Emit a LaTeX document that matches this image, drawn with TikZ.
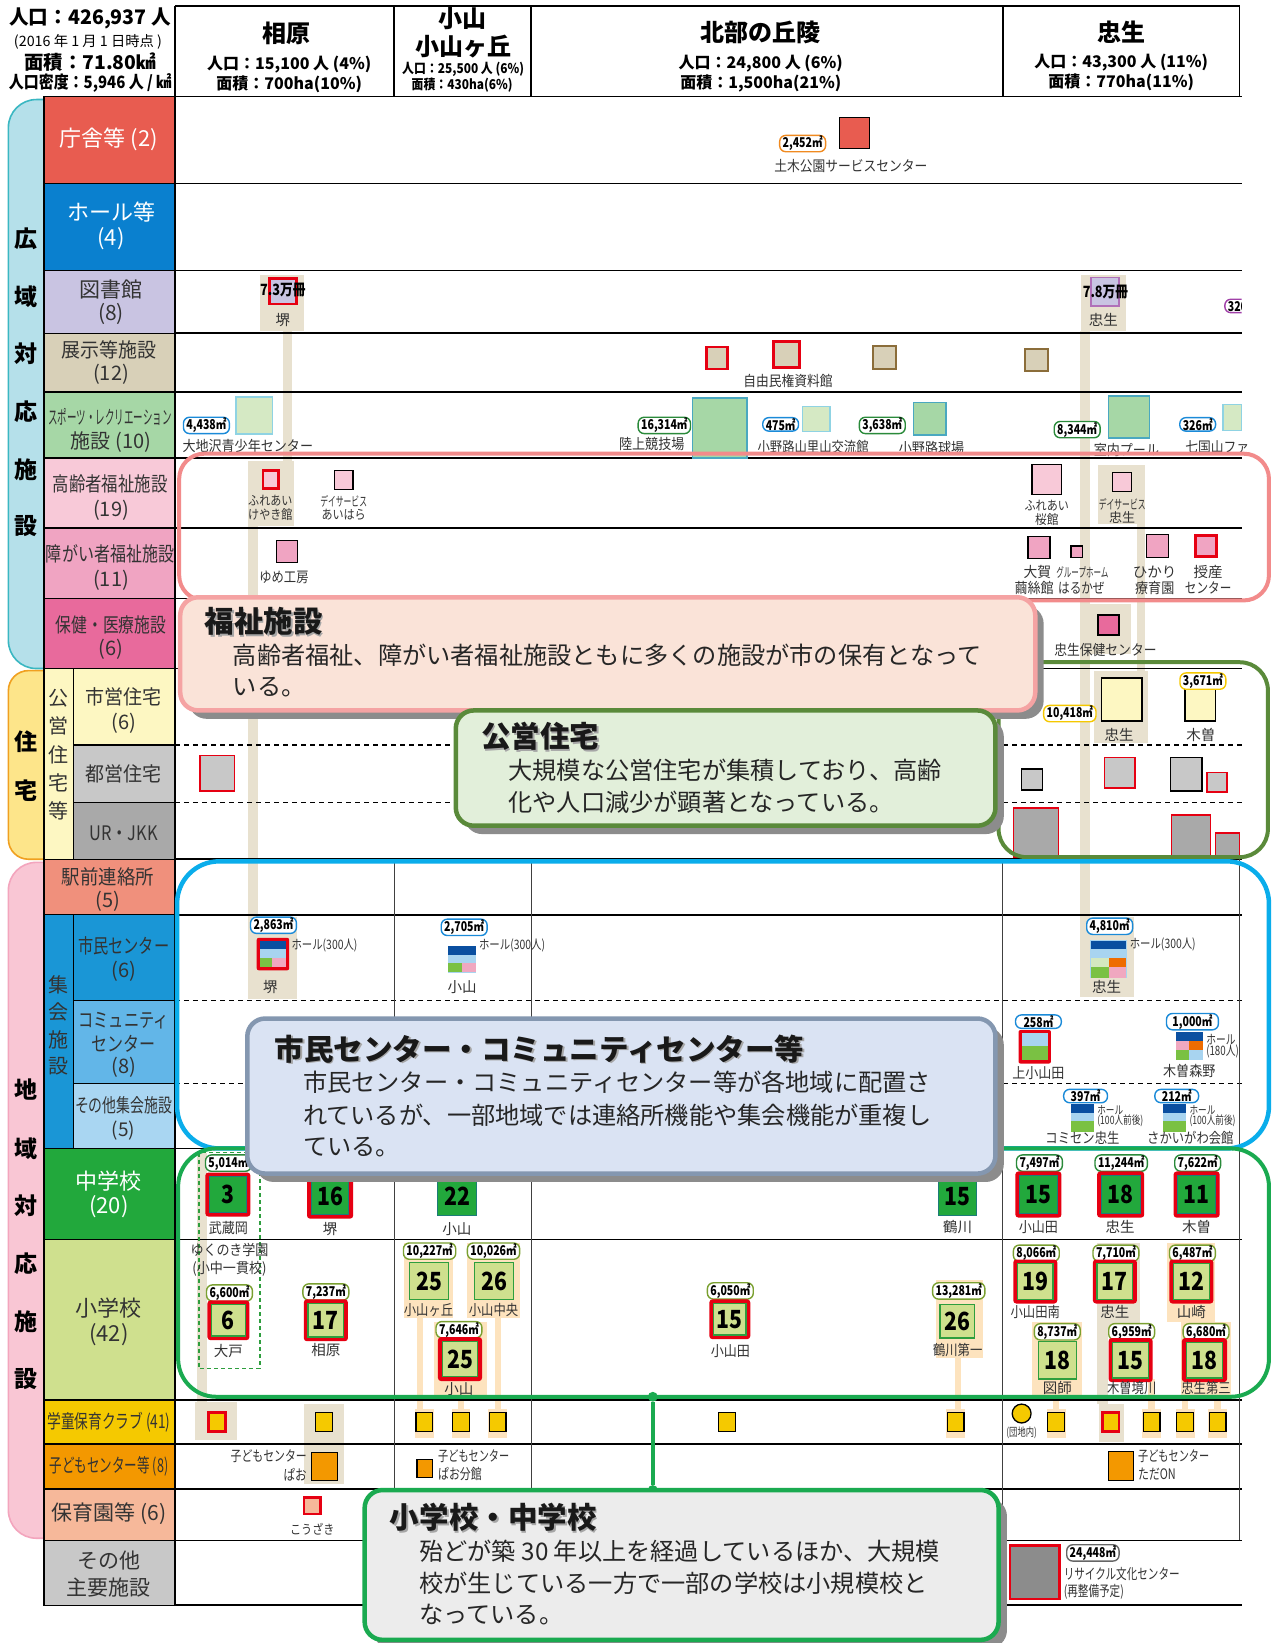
\documentclass[tikz,border=0pt]{standalone}
\usepackage{fontspec}
\setmainfont{Noto Sans CJK JP}
\definecolor{cTxt}{HTML}{333333}
\definecolor{cRed}{HTML}{E60012}
\definecolor{cChosha}{HTML}{E85C50}
\definecolor{cHall}{HTML}{0A80CF}
\definecolor{cLib}{HTML}{C9C4E2}
\definecolor{cLibB}{HTML}{B070B8}
\definecolor{cExh}{HTML}{D8D0B8}
\definecolor{cExhB}{HTML}{8B6D3A}
\definecolor{cSport}{HTML}{A6D7A6}
\definecolor{cSportL}{HTML}{D5E9C4}
\definecolor{cSportB}{HTML}{4AA8C0}
\definecolor{cSportLB}{HTML}{8FD3E3}
\definecolor{cElder}{HTML}{F8C9D8}
\definecolor{cDisab}{HTML}{F0A4C2}
\definecolor{cHealth}{HTML}{E86A9C}
\definecolor{cShiei}{HTML}{FDF7C2}
\definecolor{cToei}{HTML}{C8C8C8}
\definecolor{cUR}{HTML}{A9A9A9}
\definecolor{cEki}{HTML}{F0907C}
\definecolor{cShimin}{HTML}{1A96D6}
\definecolor{cComm}{HTML}{62B6E8}
\definecolor{cOther}{HTML}{A9D6F2}
\definecolor{cJHS}{HTML}{22A83C}
\definecolor{cJHSB}{HTML}{1C7C78}
\definecolor{cES}{HTML}{CFE08E}
\definecolor{cESB}{HTML}{2E9E3E}
\definecolor{cGaku}{HTML}{F5C900}
\definecolor{cKodomo}{HTML}{F39800}
\definecolor{cHoiku}{HTML}{F6B89A}
\definecolor{cSonota}{HTML}{C8C8C8}
\definecolor{cSonotaSq}{HTML}{8C8C8C}
\definecolor{cBandB}{HTML}{B5E0EA}
\definecolor{cBandBd}{HTML}{3AB7C2}
\definecolor{cBandY}{HTML}{FDE58A}
\definecolor{cBandYd}{HTML}{F0A020}
\definecolor{cBandP}{HTML}{F9C6D4}
\definecolor{cBandPd}{HTML}{F3A5BD}
\definecolor{cBeige}{HTML}{E8E1CF}
\definecolor{cOB}{HTML}{FDE3BE}
\definecolor{cDBlue}{HTML}{0A4FA0}
\definecolor{cLBlue}{HTML}{A8D4F0}
\definecolor{cIGreen}{HTML}{7AC143}
\definecolor{cIPink}{HTML}{F0A8C0}
\definecolor{cIOrange}{HTML}{EE6C00}
\definecolor{cILGreen}{HTML}{D4E8C0}
\definecolor{cFrP}{HTML}{F28B8B}
\definecolor{cCoP}{HTML}{FAE3D8}
\definecolor{cCoPB}{HTML}{F5A3A3}
\definecolor{cFrO}{HTML}{5A8A3A}
\definecolor{cCoG}{HTML}{E2EFDA}
\definecolor{cFrB}{HTML}{0AADEB}
\definecolor{cCoB}{HTML}{DAE3F3}
\definecolor{cCoBB}{HTML}{8497B0}
\definecolor{cFrG}{HTML}{1AAA50}
\definecolor{cCoGr}{HTML}{ECECEC}
\definecolor{cShadow}{HTML}{8C8C8C}
\definecolor{cAreaG}{HTML}{2A8A3A}
\definecolor{cAreaO}{HTML}{7AA030}
\definecolor{cAreaB}{HTML}{1A8AD8}
\definecolor{cAreaY}{HTML}{F5C800}
\definecolor{cAreaOr}{HTML}{F08A20}
\definecolor{cAreaPu}{HTML}{A040A8}
\newcounter{nd}
\newcommand\Tx[3][]{\stepcounter{nd}\node[lbl,#1] (n\arabic{nd}) at (#2) {#3};}
\newcommand\cnd[2][0.85]{\scalebox{#1}[1]{#2}}
\newcommand\Ar[3][]{\stepcounter{nd}\node[area,#1] (a\arabic{nd}) at (#2) {\cnd[0.78]{#3}};}
\newcommand\JB[5]{\draw[fill=cJHS,draw=cJHSB,line width=1pt] (#1,#2) rectangle (#3,#4);
  \stepcounter{nd}\node[num] (b\arabic{nd}) at ({(#1+#3)/2},{(#2+#4)/2}) {\cnd[0.85]{#5}};}
\newcommand\JR[5]{\fill[cRed,rounded corners=3pt] (#1-4,#2-4) rectangle (#3+4,#4+4);\JB{#1}{#2}{#3}{#4}{#5}}
\newcommand\EB[5]{\draw[fill=cES,draw=cESB,line width=1.2pt] (#1,#2) rectangle (#3,#4);
  \stepcounter{nd}\node[num] (b\arabic{nd}) at ({(#1+#3)/2},{(#2+#4)/2}) {\cnd[0.85]{#5}};}
\newcommand\ER[5]{\fill[cRed,rounded corners=3pt] (#1-4,#2-4) rectangle (#3+4,#4+4);\EB{#1}{#2}{#3}{#4}{#5}}
\newcommand\GK[1]{\draw[fs,fill=cGaku] (#1-8,1348) rectangle (#1+8,1366);}
\newcommand\GKR[1]{\draw[line width=2.6pt,draw=cRed,fill=cGaku] (#1-8,1348) rectangle (#1+8,1366);}
\newcommand\TT[2]{\stepcounter{nd}\node[ttl,anchor=west,text=black!35] (s\arabic{nd}) at ($(#1)+(1.6,1.6)$) {#2};\Tx[ttl,anchor=west]{#1}{#2}}
\usetikzlibrary{calc}
\begin{document}
\begin{tikzpicture}[x=1.0474pt,y=-1.0474pt,
  lbl/.style={inner sep=0pt,text=cTxt,font=\fontsize{14.5}{15}\selectfont},
  slbl/.style={lbl,font=\fontsize{13}{13}\selectfont},
  tlbl/.style={lbl,font=\fontsize{11.5}{11.5}\selectfont},
  ct/.style={lbl,font=\fontsize{20}{20}\selectfont},
  ctw/.style={ct,text=white},
  bd/.style={lbl,text=black,font=\bfseries\fontsize{23}{23}\selectfont},
  hd/.style={lbl,text=black,font=\bfseries\fontsize{24}{24}\selectfont},
  hs/.style={lbl,text=black,font=\bfseries\fontsize{16}{16}\selectfont},
  area/.style={draw,fill=white,rounded corners=6pt,line width=1.4pt,inner xsep=3pt,inner ysep=0.7pt,text=black,font=\bfseries\fontsize{13.5}{13.5}\selectfont},
  num/.style={inner sep=0pt,text=black,font=\bfseries\fontsize{25}{25}\selectfont},
  fs/.style={draw=black,line width=1.3pt},
  rs/.style={draw=cRed,line width=2.6pt},
  rt/.style={draw=cRed,line width=1.5pt},
  gl/.style={line width=1.6pt,black},
  dl/.style={line width=1.3pt,black,dash pattern=on 5pt off 4pt},
  vl/.style={line width=0.8pt,black!75},
  cat/.style={draw=black,line width=1.3pt},
  ttl/.style={lbl,text=black!90,font=\bfseries\fontsize{29.5}{29.5}\selectfont},
  bdy/.style={lbl,text=black!85,font=\fontsize{24.2}{24.5}\selectfont}]
\useasboundingbox (0,0) rectangle (1223,1568);
\fill[white] (0,0) rectangle (1223,1568);

% ---------- side bands
\draw[fill=cBandB,draw=cBandBd,line width=1.6pt,rounded corners=28pt] (8,95) rectangle (80,638);
\draw[fill=cBandY,draw=cBandYd,line width=1.6pt,rounded corners=20pt] (8,640) rectangle (80,820);
\draw[fill=cBandP,draw=cBandPd,line width=1.6pt,rounded corners=28pt] (8,823) rectangle (80,1468);

% ---------- beige strips (co-located facilities)
\fill[cBeige] (248,262) rectangle (290,316);
\fill[cBeige] (270,316) rectangle (279,440);
\fill[cBeige] (237,440) rectangle (281,502);
\fill[cBeige] (237,502) rectangle (246,875);
\fill[cBeige] (237,875) rectangle (283,953);
\fill[cBeige] (188,1100) rectangle (198,1338);
\fill[cBeige] (186,1338) rectangle (226,1374);
\fill[cBeige] (290,1340) rectangle (328,1416);
\fill[cBeige] (1032,262) rectangle (1075,316);
\fill[cBeige] (1031,316) rectangle (1040,875);
\fill[cBeige] (1031,875) rectangle (1082,951);
\fill[cBeige] (1048,444) rectangle (1093,500);
\fill[cBeige] (1085,500) rectangle (1093,640);
\fill[cBeige] (1033,576) rectangle (1079,624);
\fill[cBeige] (1044,640) rectangle (1096,709);
\fill[cBeige] (1047,1186) rectangle (1088,1268);
\fill[cBeige] (1047,1268) rectangle (1057,1340);
\fill[cBeige] (1049,1340) rectangle (1073,1376);
% light orange strips (schools)
\fill[cOB] (386,1186) rectangle (432,1258);
\fill[cOB] (398,1258) rectangle (404,1347);
\fill[cOB] (396,1345) rectangle (414,1372);
\fill[cOB] (446,1186) rectangle (496,1258);
\fill[cOB] (472,1258) rectangle (478,1347);
\fill[cOB] (466,1345) rectangle (484,1372);
\fill[cOB] (414,1262) rectangle (465,1333);
\fill[cOB] (437,1333) rectangle (443,1347);
\fill[cOB] (431,1345) rectangle (449,1372);
\fill[cOB] (893,1222) rectangle (938,1296);
\fill[cOB] (911,1296) rectangle (917,1347);
\fill[cOB] (903,1345) rectangle (921,1372);
\fill[cOB] (985,1262) rectangle (1033,1333);
\fill[cOB] (1005,1333) rectangle (1011,1347);
\fill[cOB] (999,1345) rectangle (1017,1372);
\fill[cOB] (1114,1186) rectangle (1160,1262);
\fill[cOB] (1127,1262) rectangle (1175,1333);
\fill[cOB] (1128,1262) rectangle (1134,1347);
\fill[cOB] (1122,1345) rectangle (1140,1372);
\fill[cOB] (1159,1333) rectangle (1165,1347);
\fill[cOB] (1153,1345) rectangle (1171,1372);
\fill[cOB] (1096,1316) rectangle (1102,1347);
\fill[cOB] (1090,1345) rectangle (1108,1372);

% ---------- header
\draw[gl] (167,6) -- (1183,6);
\foreach \x in {167,376,507,957,1183} \draw[gl] (\x,6) -- (\x,92);
\Tx[lbl,text=black,font=\bfseries\fontsize{20}{20}\selectfont]{86,18}{\cnd[0.98]{人口：426,937 人}}
\Tx[lbl,text=black,font=\fontsize{14.3}{14.3}\selectfont]{84,40}{(2016 年 1 月 1 日時点 )}
\Tx[lbl,text=black,font=\bfseries\fontsize{19}{19}\selectfont]{86,59}{\cnd[1.02]{面積：71.80㎢}}
\Tx[lbl,text=black,font=\bfseries\fontsize{17}{17}\selectfont]{86,79}{\cnd[0.88]{人口密度：5,946 人 / ㎢}}
\Tx[hd]{273,32}{相原}
\Tx[hs]{276,62}{人口：15,100 人 (4\%)}
\Tx[hs]{276,80}{面積：700ha(10\%)}
\Tx[hd]{441,18}{小山}
\Tx[hd]{442,44}{小山ヶ丘}
\Tx[hs,font=\bfseries\fontsize{13.5}{13.5}\selectfont]{442,66}{\cnd[0.88]{人口：25,500 人 (6\%)}}
\Tx[hs,font=\bfseries\fontsize{13.5}{13.5}\selectfont]{441,81}{\cnd[0.88]{面積：430ha(6\%)}}
\Tx[hd]{726,31}{北部の丘陵}
\Tx[hs]{726,61}{人口：24,800 人 (6\%)}
\Tx[hs]{726,80}{面積：1,500ha(21\%)}
\Tx[hd]{1070,31}{忠生}
\Tx[hs]{1070,60}{人口：43,300 人 (11\%)}
\Tx[hs]{1070,79}{面積：770ha(11\%)}

% ---------- grid
\foreach \y in {92,175,258,318,374,437,504,571,638,820,873,1096,1183,1336,1378,1421,1470,1532} \draw[gl] (167,\y) -- (1185,\y);
\foreach \y in {711,766,955,1034} \draw[dl] (167,\y) -- (1185,\y);
\foreach \x in {376,507,957,1183} \draw[vl] (\x,820) -- (\x,1470);

% ---------- 庁舎等
\draw[fs,fill=cChosha] (801,112) rectangle (830,142);
\Ar[draw=cAreaOr]{766,137}{2,452㎡}
\Tx{812,158}{\cnd[0.88]{土木公園サービスセンター}}

% ---------- 図書館
\draw[rs,fill=cLib] (257,266) rectangle (283,290);
\Tx[lbl,text=black,font=\bfseries\fontsize{15.5}{15.5}\selectfont]{270,277}{\cnd[0.82]{7.3万冊}}
\Tx{270,305}{堺}
\draw[line width=1.5pt,draw=cLibB,fill=cLib] (1041,265) rectangle (1068,292);
\Tx[lbl,text=black,font=\bfseries\fontsize{15.5}{15.5}\selectfont]{1055,279}{\cnd[0.82]{7.8万冊}}
\Tx{1053,305}{忠生}
\begin{scope}
\clip (1150,280) rectangle (1185,305);
\Ar[draw=cAreaPu]{1186,292}{320㎡}
\end{scope}

% ---------- 展示等施設
\draw[rs,fill=cExh] (674,331) rectangle (694,352);
\draw[rs,fill=cExh] (738,326) rectangle (763,351);
\Tx{752,364}{\cnd[0.88]{自由民権資料館}}
\draw[line width=1.5pt,draw=cExhB,fill=cExh] (833,330) rectangle (855,352);
\draw[line width=1.5pt,draw=cExhB,fill=cExh] (978,333) rectangle (1000,354);

% ---------- スポーツ
\draw[line width=1.5pt,draw=cSportLB,fill=cSportL] (225,379) rectangle (260,414);
\Ar[draw=cAreaB]{197,406}{4,438㎡}
\Tx[anchor=west]{174,426}{\cnd[0.9]{大地沢青少年センター}}
\draw[line width=1.5pt,draw=cSportB,fill=cSport] (661,380) rectangle (713,437);
\Ar[draw=cAreaG]{634,406}{16,314㎡}
\Tx{622,424}{\cnd[0.9]{陸上競技場}}
\draw[line width=1.5pt,draw=cSportLB,fill=cSportL] (766,388) rectangle (792,412);
\Ar[draw=cAreaB]{745,405}{475㎡}
\Tx{776,427}{\cnd[0.85]{小野路山里山交流館}}
\draw[line width=1.5pt,draw=cSportB,fill=cSport] (872,384) rectangle (903,415);
\Ar[draw=cAreaG]{842,406}{3,638㎡}
\Tx{889,428}{\cnd[0.9]{小野路球場}}
\draw[line width=1.5pt,draw=cSportB,fill=cSport] (1058,378) rectangle (1097,418);
\Ar[draw=cAreaG]{1028,410}{8,344㎡}
\Tx{1075,429}{\cnd[0.9]{室内プール}}
\draw[line width=1.5pt,draw=cSportLB,fill=cSportL] (1167,386) rectangle (1185,411);
\Ar[draw=cAreaB]{1143,405}{326㎡}
\Tx[anchor=west]{1131,427}{\cnd[0.88]{七国山ファ}}

% ---------- 高齢者福祉
\draw[rs,fill=cElder] (251,449) rectangle (266,466);
\Tx[slbl]{258,478}{\cnd[0.85]{ふれあい}}
\Tx[slbl]{258,491}{\cnd[0.85]{けやき館}}
\draw[fs,fill=cElder] (319,449) rectangle (337,467);
\Tx[slbl]{328,478}{\cnd[0.6]{デイサービス}}
\Tx[slbl]{328,491}{\cnd[0.85]{あいはら}}
\draw[fs,fill=cElder] (985,443) rectangle (1013,472);
\Tx[slbl]{999,483}{\cnd[0.85]{ふれあい}}
\Tx[slbl]{999,496}{\cnd[0.9]{桜館}}
\draw[fs,fill=cElder] (1062,451) rectangle (1080,469);
\Tx[slbl]{1071,481}{\cnd[0.6]{デイサービス}}
\Tx[slbl]{1071,494}{忠生}

% ---------- 障がい者福祉
\draw[fs,fill=cDisab] (264,516) rectangle (284,537);
\Tx{271,551}{\cnd[0.85]{ゆめ工房}}
\draw[fs,fill=cDisab] (981,512) rectangle (1002,533);
\Tx{990,546}{\cnd[0.95]{大賀}}
\Tx{987,561}{\cnd[0.9]{繭絲館}}
\draw[fs,fill=cDisab] (1022,521) rectangle (1033,532);
\Tx[slbl]{1033,546}{\cnd[0.58]{グループホーム}}
\Tx{1032,561}{\cnd[0.8]{はるかぜ}}
\draw[fs,fill=cDisab] (1094,510) rectangle (1115,532);
\Tx{1102,546}{ひかり}
\Tx{1102,561}{\cnd[0.9]{療育園}}
\draw[rs,fill=cDisab] (1141,511) rectangle (1161,531);
\Tx{1153,546}{授産}
\Tx{1153,561}{\cnd[0.8]{センター}}

% ---------- 保健・医療
\draw[fs,fill=cHealth] (1048,587) rectangle (1068,606);
\Tx{1055,620}{\cnd[0.88]{忠生保健センター}}

% ---------- 市営住宅
\draw[fs,fill=cShiei] (1051,647) rectangle (1090,688);
\Ar[draw=cAreaY]{1021,681}{10,418㎡}
\Tx{1068,701}{忠生}
\draw[fs,fill=cShiei] (1131,657) rectangle (1160,688);
\Ar[draw=cAreaY]{1148,650}{3,671㎡}
\Tx{1146,701}{木曽}

% ---------- 都営住宅
\draw[rt,fill=cToei] (191,721) rectangle (224,755);
\draw[fs,fill=cToei] (975,734) rectangle (995,754);
\draw[rt,fill=cToei] (1054,723) rectangle (1083,752);
\draw[fs,fill=cToei] (1117,723) rectangle (1147,755);
\draw[rt,fill=cToei] (1152,737) rectangle (1171,756);

% ---------- UR・JKK
\draw[rt,fill=cUR] (967,771) rectangle (1010,818);
\draw[rt,fill=cUR] (1118,778) rectangle (1155,818);
\draw[rt,fill=cUR] (1160,795) rectangle (1183,818);

% ---------- 市民センター
\Ar[draw=cAreaB]{261,883}{2,863㎡}
\fill[cRed,rounded corners=2pt] (245,895) rectangle (276,926);
\fill[cDBlue] (248,898) rectangle (273,906);
\fill[cLBlue] (248,906) rectangle (273,914);
\fill[cIGreen] (248,914) rectangle (260,923);
\fill[cIPink] (260,914) rectangle (273,923);
\Tx[slbl,anchor=west]{278,902}{\cnd[0.8]{ホール(300人)}}
\Tx{258,942}{堺}
\Ar[draw=cAreaB]{443,885}{2,705㎡}
\draw[cLBlue,line width=1pt] (428,903) rectangle (454,928);
\fill[cDBlue] (428,903) rectangle (454,911);
\fill[cLBlue] (428,911) rectangle (454,919);
\fill[cIGreen] (428,919) rectangle (441,928);
\fill[cIPink] (441,919) rectangle (454,928);
\Tx[slbl,anchor=west]{457,902}{\cnd[0.8]{ホール(300人)}}
\Tx{441,942}{小山}
\Ar[draw=cAreaB]{1059,884}{4,810㎡}
\draw[cLBlue,line width=1pt] (1041,898) rectangle (1075,933);
\fill[cDBlue] (1041,898) rectangle (1075,906);
\fill[cLBlue] (1041,906) rectangle (1075,914);
\fill[cILGreen] (1041,914) rectangle (1058,923);
\fill[cIOrange] (1058,914) rectangle (1075,923);
\fill[cIGreen] (1041,923) rectangle (1058,933);
\fill[cIPink] (1058,923) rectangle (1075,933);
\Tx[slbl,anchor=west]{1078,901}{\cnd[0.8]{ホール(300人)}}
\Tx{1056,942}{忠生}

% ---------- コミュニティセンター
\Ar[draw=cAreaB,inner xsep=8pt]{991,975}{258㎡}
\fill[cRed,rounded corners=2pt] (972,983) rectangle (1003,1015);
\fill[cLBlue] (975,986) rectangle (1000,998);
\fill[cIGreen] (975,998) rectangle (1000,1012);
\Tx{991,1024}{\cnd[0.9]{上小山田}}
\Ar[draw=cAreaB,inner xsep=6pt]{1138,975}{1,000㎡}
\fill[cDBlue] (1122,985) rectangle (1148,993);
\fill[cIPink] (1122,993) rectangle (1135,1002);
\fill[cIOrange] (1135,993) rectangle (1148,1002);
\fill[cIGreen] (1122,1002) rectangle (1135,1012);
\fill[cLBlue] (1135,1002) rectangle (1148,1012);
\Tx[slbl,anchor=west]{1151,992}{\cnd[0.75]{ホール}}
\Tx[slbl,anchor=west]{1151,1003}{\cnd[0.75]{(180人)}}
\Tx{1135,1022}{\cnd[0.9]{木曽森野}}

% ---------- その他集会施設
\Ar[draw=cAreaB,inner xsep=7pt]{1036,1046}{397㎡}
\fill[cDBlue] (1022,1054) rectangle (1044,1062);
\fill[cLBlue] (1022,1062) rectangle (1044,1070);
\fill[cIGreen] (1022,1070) rectangle (1044,1080);
\Tx[tlbl,anchor=west]{1047,1059}{\cnd[0.75]{ホール}}
\Tx[tlbl,anchor=west]{1047,1070}{\cnd[0.75]{(100人前後)}}
\Tx{1033,1086}{\cnd[0.85]{コミセン忠生}}
\Ar[draw=cAreaB,inner xsep=7pt]{1123,1046}{212㎡}
\fill[cDBlue] (1110,1054) rectangle (1132,1062);
\fill[cLBlue] (1110,1062) rectangle (1132,1070);
\fill[cIGreen] (1110,1070) rectangle (1132,1080);
\Tx[tlbl,anchor=west]{1135,1059}{\cnd[0.75]{ホール}}
\Tx[tlbl,anchor=west]{1135,1070}{\cnd[0.75]{(100人前後)}}
\Tx{1136,1086}{\cnd[0.85]{さかいがわ会館}}

% ---------- 中学校
\draw[cESB,line width=1.3pt,dash pattern=on 4pt off 3pt] (190,1100) rectangle (248,1306);
\Ar[draw=cAreaG]{218,1110}{5,014㎡}
\JR{200}{1123}{235}{1157}{3}
\Tx{218,1172}{\cnd[0.9]{武蔵岡}}
\JR{297}{1124}{333}{1159}{16}
\Tx{315,1173}{堺}
\JB{418}{1123}{455}{1160}{22}
\Tx{436,1173}{小山}
\JB{896}{1123}{932}{1160}{15}
\Tx{914,1171}{鶴川}
\Ar[draw=cAreaG]{992,1110}{7,497㎡}
\JR{973}{1122}{1009}{1158}{15}
\Tx{991,1171}{\cnd[0.9]{小山田}}
\Ar[draw=cAreaG]{1070,1110}{11,244㎡}
\JR{1051}{1122}{1088}{1158}{18}
\Tx{1069,1171}{忠生}
\Ar[draw=cAreaG]{1143,1110}{7,622㎡}
\JR{1124}{1122}{1160}{1158}{11}
\Tx{1142,1171}{木曽}

% ---------- 小学校
\Tx{219,1193}{\cnd[0.9]{ゆくのき学園}}
\Tx{219,1211}{\cnd[0.9]{(小中一貫校)}}
\Ar[draw=cAreaO]{219,1234}{6,600㎡}
\ER{202}{1245}{234}{1275}{6}
\Tx{218,1289}{大戸}
\Ar[draw=cAreaO]{311,1233}{7,237㎡}
\ER{294}{1244}{328}{1276}{17}
\Tx{311,1288}{相原}
\Ar[draw=cAreaO]{410,1194}{10,227㎡}
\EB{391}{1205}{428}{1240}{25}
\Tx{409,1250}{\cnd[0.85]{小山ヶ丘}}
\Ar[draw=cAreaO]{471,1194}{10,026㎡}
\EB{453}{1205}{490}{1240}{26}
\Tx{471,1250}{\cnd[0.85]{小山中央}}
\Ar[draw=cAreaO]{438,1269}{7,646㎡}
\ER{422}{1280}{456}{1314}{25}
\Tx{438,1326}{小山}
\Ar[draw=cAreaO]{697,1232}{6,050㎡}
\ER{681}{1244}{712}{1274}{15}
\Tx{697,1289}{\cnd[0.9]{小山田}}
\Ar[draw=cAreaO]{915,1232}{13,281㎡}
\EB{897}{1245}{930}{1277}{26}
\Tx{914,1288}{\cnd[0.85]{鶴川第一}}
\Ar[draw=cAreaO]{989,1196}{8,066㎡}
\ER{971}{1206}{1005}{1240}{19}
\Tx{988,1252}{\cnd[0.85]{小山田南}}
\Ar[draw=cAreaO]{1065,1196}{7,710㎡}
\ER{1047}{1206}{1081}{1240}{17}
\Tx{1064,1252}{忠生}
\Ar[draw=cAreaO]{1138,1196}{6,487㎡}
\ER{1120}{1206}{1154}{1240}{12}
\Tx{1137,1252}{山崎}
\Ar[draw=cAreaO]{1009,1271}{8,737㎡}
\EB{991}{1280}{1027}{1316}{18}
\Tx{1009,1325}{図師}
\Ar[draw=cAreaO]{1080,1271}{6,959㎡}
\ER{1062}{1281}{1096}{1315}{15}
\Tx{1080,1325}{\cnd[0.85]{木曽境川}}
\Ar[draw=cAreaO]{1151,1271}{6,680㎡}
\ER{1132}{1281}{1167}{1315}{18}
\Tx{1151,1325}{\cnd[0.85]{忠生第三}}

% ---------- 学童保育クラブ
\GKR{207}
\GK{309}\GK{405}\GK{440}\GK{475}\GK{694}\GK{912}\GK{1008}
\GKR{1060}
\GK{1099}\GK{1131}\GK{1162}
\draw[fs,fill=cGaku] (975,1349) circle (9);
\Tx[tlbl]{975,1367}{\cnd[0.72]{(団地内)}}

% ---------- 子どもセンター等
\draw[fs,fill=cKodomo] (297,1386) rectangle (322,1413);
\Tx[anchor=east]{293,1390}{\cnd[0.75]{子どもセンター}}
\Tx[anchor=east]{293,1407}{\cnd[0.8]{ぱお}}
\draw[fs,fill=cKodomo] (398,1393) rectangle (413,1410);
\Tx[anchor=west]{418,1390}{\cnd[0.7]{子どもセンター}}
\Tx[anchor=west]{418,1407}{\cnd[0.75]{ぱお分館}}
\draw[fs,fill=cKodomo] (1058,1385) rectangle (1082,1413);
\Tx[anchor=west]{1086,1390}{\cnd[0.7]{子どもセンター}}
\Tx[anchor=west]{1086,1407}{\cnd[0.75]{ただON}}

% ---------- 保育園等
\draw[rs,fill=cHoiku] (290,1429) rectangle (306,1445);
\Tx[slbl]{298,1459}{\cnd[0.85]{こうざき}}

% ---------- その他主要施設
\draw[rs,fill=cSonotaSq] (964,1475) rectangle (1011,1526);
\Ar[draw=black!60]{1043,1482}{24,448㎡}
\Tx[anchor=west]{1015,1502}{\cnd[0.73]{リサイクル文化センター}}
\Tx[anchor=west]{1015,1519}{\cnd[0.73]{(再整備予定)}}

% ---------- category column
\draw[cat,fill=cChosha] (42,92) rectangle (167,175);
\Tx[ctw,font=\fontsize{22}{22}\selectfont]{104,133}{庁舎等 (2)}
\draw[cat,fill=cHall] (42,175) rectangle (167,258);
\Tx[ctw,font=\fontsize{22}{22}\selectfont]{106,202}{ホール等}
\Tx[ctw,font=\fontsize{22}{22}\selectfont]{106,228}{(4)}
\draw[cat,fill=cLib] (42,258) rectangle (167,318);
\Tx[ct,font=\fontsize{21}{21}\selectfont]{106,276}{図書館}
\Tx[ct,font=\fontsize{21}{21}\selectfont]{106,300}{(8)}
\draw[cat,fill=cExh] (42,318) rectangle (167,374);
\Tx[ct]{104,334}{\cnd[0.95]{展示等施設}}
\Tx[ct]{106,357}{(12)}
\draw[cat,fill=cSport] (42,374) rectangle (167,437);
\Tx[ct,font=\fontsize{19}{19}\selectfont]{105,398}{\cnd[0.5]{スポーツ・レクリエーション}}
\Tx[ct]{106,422}{施設 (10)}
\draw[cat,fill=cElder] (42,437) rectangle (167,504);
\Tx[ct]{105,462}{\cnd[0.82]{高齢者福祉施設}}
\Tx[ct]{106,487}{(19)}
\draw[cat,fill=cDisab] (42,504) rectangle (167,571);
\Tx[ct]{105,529}{\cnd[0.8]{障がい者福祉施設}}
\Tx[ct]{106,554}{(11)}
\draw[cat,fill=cHealth] (42,571) rectangle (167,638);
\Tx[ct]{106,596}{\cnd[0.79]{保健・医療施設}}
\Tx[ct]{106,620}{(6)}
\draw[cat,fill=cShiei] (42,638) rectangle (70,820);
\Tx[ct]{56,666}{公}
\Tx[ct]{56,693}{営}
\Tx[ct]{56,720}{住}
\Tx[ct]{56,747}{宅}
\Tx[ct]{56,774}{等}
\draw[cat,fill=cShiei] (70,638) rectangle (167,711);
\Tx[ct]{118,665}{\cnd[0.95]{市営住宅}}
\Tx[ct]{118,690}{(6)}
\draw[cat,fill=cToei] (70,711) rectangle (167,766);
\Tx[ct]{118,739}{\cnd[0.95]{都営住宅}}
\draw[cat,fill=cUR] (70,766) rectangle (167,820);
\Tx[ct]{118,795}{\cnd[0.82]{UR・JKK}}
\draw[cat,fill=cEki] (42,820) rectangle (167,873);
\Tx[ct]{103,837}{\cnd[0.92]{駅前連絡所}}
\Tx[ct]{103,860}{(5)}
\draw[cat,fill=cShimin] (42,873) rectangle (70,1096);
\Tx[ct]{56,940}{集}
\Tx[ct]{56,966}{会}
\Tx[ct]{56,992}{施}
\Tx[ct]{56,1018}{設}
\draw[cat,fill=cShimin] (70,873) rectangle (167,955);
\Tx[ct]{118,903}{\cnd[0.76]{市民センター}}
\Tx[ct]{118,927}{(6)}
\draw[cat,fill=cComm] (70,955) rectangle (167,1034);
\Tx[ct]{118,974}{\cnd[0.76]{コミュニティ}}
\Tx[ct]{118,996}{\cnd[0.8]{センター}}
\Tx[ct]{118,1019}{(8)}
\draw[cat,fill=cOther] (70,1034) rectangle (167,1096);
\Tx[ct,font=\fontsize{19}{19}\selectfont]{118,1055}{\cnd[0.73]{その他集会施設}}
\Tx[ct,font=\fontsize{19}{19}\selectfont]{118,1079}{(5)}
\draw[cat,fill=cJHS] (42,1096) rectangle (167,1183);
\Tx[ctw,font=\fontsize{22}{22}\selectfont]{104,1127}{中学校}
\Tx[ctw,font=\fontsize{22}{22}\selectfont]{104,1152}{(20)}
\draw[cat,fill=cES] (42,1183) rectangle (167,1336);
\Tx[ct,font=\fontsize{22}{22}\selectfont]{104,1248}{小学校}
\Tx[ct,font=\fontsize{22}{22}\selectfont]{104,1274}{(42)}
\draw[cat,fill=cGaku] (42,1336) rectangle (167,1378);
\Tx[ct,font=\fontsize{19}{19}\selectfont]{104,1357}{\cnd[0.72]{学童保育クラブ (41)}}
\draw[cat,fill=cKodomo] (42,1378) rectangle (167,1421);
\Tx[ct,font=\fontsize{19}{19}\selectfont]{104,1399}{\cnd[0.66]{子どもセンター等 (8)}}
\draw[cat,fill=cHoiku] (42,1421) rectangle (167,1470);
\Tx[ct,font=\fontsize{21}{21}\selectfont]{104,1445}{保育園等 (6)}
\draw[cat,fill=cSonota] (42,1470) rectangle (167,1532);
\Tx[ct,font=\fontsize{21}{21}\selectfont]{104,1489}{その他}
\Tx[ct,font=\fontsize{21}{21}\selectfont]{104,1515}{主要施設}

% band letters
\Tx[bd]{25,228}{広}
\Tx[bd]{25,283}{域}
\Tx[bd]{25,338}{対}
\Tx[bd]{25,393}{応}
\Tx[bd]{25,448}{施}
\Tx[bd]{25,502}{設}
\Tx[bd]{25,708}{住}
\Tx[bd]{25,755}{宅}
\Tx[bd]{25,1040}{地}
\Tx[bd]{25,1096}{域}
\Tx[bd]{25,1151}{対}
\Tx[bd]{25,1206}{応}
\Tx[bd]{25,1261}{施}
\Tx[bd]{25,1316}{設}

% ---------- highlight frames
\draw[cFrP,line width=4pt,rounded corners=25pt] (171,433) rectangle (1211,573);
\draw[cFrO,line width=4pt,rounded corners=28pt] (953,632) rectangle (1210,818);
\draw[cFrB,line width=4.5pt,rounded corners=42pt] (169,822) rectangle (1211,1096);
\draw[cFrG,line width=4pt,rounded corners=38pt] (170,1096) rectangle (1211,1333);

% ---------- callouts
\fill[cShadow,rounded corners=18pt] (180,578) rectangle (996,686);
\draw[fill=cCoP,draw=cCoPB,line width=4.5pt,rounded corners=18pt] (172,570) rectangle (988,678);
\TT{195,593}{福祉施設}
\Tx[bdy,anchor=west]{222,625}{高齢者福祉、障がい者福祉施設ともに多くの施設が市の保有となって}
\Tx[bdy,anchor=west]{222,656}{いる。}

\fill[cShadow,rounded corners=18pt] (443,686) rectangle (958,796);
\draw[fill=cCoG,draw=cFrO,line width=4.5pt,rounded corners=18pt] (435,678) rectangle (950,788);
\TT{459,703}{公営住宅}
\Tx[bdy,anchor=west]{485,735}{大規模な公営住宅が集積しており、高齢}
\Tx[bdy,anchor=west]{485,766}{化や人口減少が顕著となっている。}

\fill[cShadow,rounded corners=18pt] (244,980) rectangle (958,1128);
\draw[fill=cCoB,draw=cCoBB,line width=4.5pt,rounded corners=18pt] (236,972) rectangle (950,1120);
\TT{262,1001}{市民センター・コミュニティセンター等}
\Tx[bdy,anchor=west]{289,1033}{市民センター・コミュニティセンター等が各地域に配置さ}
\Tx[bdy,anchor=west]{289,1064}{れているが、一部地域では連絡所機能や集会機能が重複し}
\Tx[bdy,anchor=west]{289,1095}{ている。}

\node[circle,fill=cFrG,inner sep=3.5pt] (gdot1) at (623,1333) {};
\node[circle,fill=cFrG,inner sep=3.5pt] (gdot2) at (623,1422) {};
\draw[cFrG,line width=4pt] (gdot1) -- (gdot2);
\fill[cShadow,rounded corners=18pt] (356,1430) rectangle (961,1573);
\draw[fill=cCoGr,draw=cFrG,line width=4.5pt,rounded corners=18pt] (348,1422) rectangle (953,1565);
\TT{372,1448}{小学校・中学校}
\Tx[bdy,anchor=west]{400,1480}{殆どが築 30 年以上を経過しているほか、大規模}
\Tx[bdy,anchor=west]{400,1511}{校が生じている一方で一部の学校は小規模校と}
\Tx[bdy,anchor=west]{400,1541}{なっている。}
\end{tikzpicture}
\end{document}
